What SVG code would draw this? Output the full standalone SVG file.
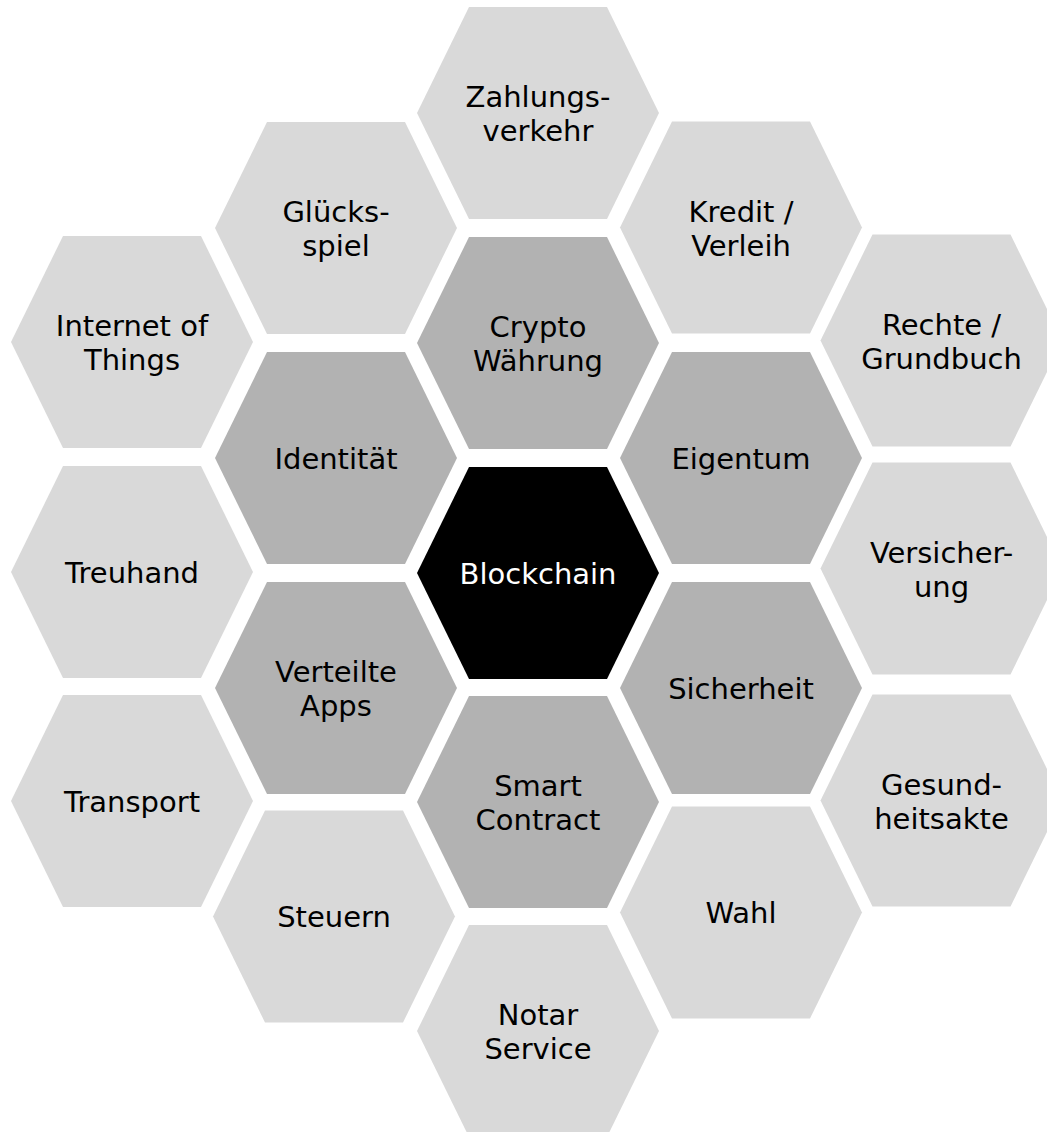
<svg xmlns="http://www.w3.org/2000/svg" xmlns:xlink="http://www.w3.org/1999/xlink" width="1047" height="1132" viewBox="0 0 1047 1132">
<style>
.light{fill:#D9D9D9}
.mid{fill:#B2B2B2}
.dark{fill:#000000}
text{font-family:"DejaVu Sans","Verdana",sans-serif;font-size:29px;text-anchor:middle;fill:#000}
text.inv{fill:#FFFFFF}
</style>
<defs>
<polygon id="hex" points="-121,0 -69,-106 69,-106 121,0 69,106 -69,106"/>
</defs>
<rect width="1047" height="1132" fill="#FFFFFF"/>
<g id="connectors"/>
<g id="n-zahlung"><use href="#hex" class="light" transform="translate(538,113)"/><text x="538" y="107">Zahlungs-</text><text x="538" y="141">verkehr</text></g>
<g id="n-gluecksspiel"><use href="#hex" class="light" transform="translate(336,228)"/><text x="336" y="222">Glücks-</text><text x="336" y="256">spiel</text></g>
<g id="n-kredit"><use href="#hex" class="light" transform="translate(741,227.5)"/><text x="741" y="221.5">Kredit /</text><text x="741" y="255.5">Verleih</text></g>
<g id="n-iot"><use href="#hex" class="light" transform="translate(132,342)"/><text x="132" y="336">Internet of</text><text x="132" y="370">Things</text></g>
<g id="n-crypto"><use href="#hex" class="mid" transform="translate(538,343)"/><text x="538" y="337">Crypto</text><text x="538" y="371">Währung</text></g>
<g id="n-rechte"><use href="#hex" class="light" transform="translate(941.5,340.5)"/><text x="941.5" y="334.5">Rechte /</text><text x="941.5" y="368.5">Grundbuch</text></g>
<g id="n-identitaet"><use href="#hex" class="mid" transform="translate(336,458)"/><text x="336" y="468.5">Identität</text></g>
<g id="n-eigentum"><use href="#hex" class="mid" transform="translate(741,458)"/><text x="741" y="468.5">Eigentum</text></g>
<g id="n-treuhand"><use href="#hex" class="light" transform="translate(132,572)"/><text x="132" y="582.5">Treuhand</text></g>
<g id="n-blockchain"><use href="#hex" class="dark" transform="translate(538,573)"/><text class="inv" x="538" y="583.5">Blockchain</text></g>
<g id="n-versicherung"><use href="#hex" class="light" transform="translate(941.5,568.5)"/><text x="941.5" y="562.5">Versicher-</text><text x="941.5" y="596.5">ung</text></g>
<g id="n-apps"><use href="#hex" class="mid" transform="translate(336,688)"/><text x="336" y="682">Verteilte</text><text x="336" y="716">Apps</text></g>
<g id="n-sicherheit"><use href="#hex" class="mid" transform="translate(741,688)"/><text x="741" y="698.5">Sicherheit</text></g>
<g id="n-transport"><use href="#hex" class="light" transform="translate(132,801)"/><text x="132" y="811.5">Transport</text></g>
<g id="n-smart"><use href="#hex" class="mid" transform="translate(538,802)"/><text x="538" y="796">Smart</text><text x="538" y="830">Contract</text></g>
<g id="n-gesundheit"><use href="#hex" class="light" transform="translate(941.5,800.5)"/><text x="941.5" y="794.5">Gesund-</text><text x="941.5" y="828.5">heitsakte</text></g>
<g id="n-steuern"><use href="#hex" class="light" transform="translate(334,916.5)"/><text x="334" y="927">Steuern</text></g>
<g id="n-wahl"><use href="#hex" class="light" transform="translate(741,912.5)"/><text x="741" y="923">Wahl</text></g>
<g id="n-notar"><use href="#hex" class="light" transform="translate(538,1031)"/><text x="538" y="1025">Notar</text><text x="538" y="1059">Service</text></g>
</svg>
